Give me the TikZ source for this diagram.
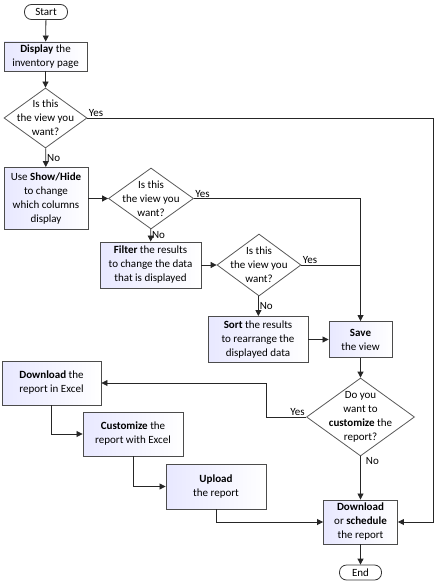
\documentclass[tikz,border=0pt]{standalone}
\usepackage{fontspec}
\setmainfont{Carlito}
\usetikzlibrary{shapes.geometric, arrows.meta, positioning, calc}
\tikzset{
    terminal/.style={
        rectangle,
        rounded corners=7pt,
        draw=black!80,
        line width=0.8pt,
        minimum width=43pt,
        minimum height=15pt,
        inner sep=0pt,
        fill=white,
        font=\fontsize{11}{12}\selectfont
    },
    process/.style={
        rectangle,
        draw=black!70,
        line width=0.9pt,
        left color=blue!9!white,
        right color=white,
        align=center,
        inner sep=1pt,
        font=\fontsize{11}{14}\selectfont
    },
    decision/.style={
        diamond,
        draw=black!65,
        line width=0.8pt,
        fill=white,
        inner sep=0pt
    },
    dtext/.style={
        align=center,
        inner sep=0pt,
        font=\fontsize{11}{14}\selectfont
    },
    wire/.style={
        draw=black!85,
        line width=0.8pt,
        -{Triangle[length=6pt,width=6pt]}
    },
    joinwire/.style={
        draw=black!85,
        line width=0.8pt
    },
    answer/.style={
        font=\fontsize{11}{12}\selectfont,
        inner sep=1pt
    }
}
\begin{document}
\begin{tikzpicture}[x=1pt, y=-1pt]
\useasboundingbox (0,0) rectangle (435,585);

% Start
\node[terminal] (start) at (46,12) {Start};
\node[process, minimum width=83pt, minimum height=29pt] (display) at (45.5,56.5) {\textbf{Display} the\\inventory page};
\node[decision, minimum width=83pt, minimum height=60pt] (q1) at (45.5,118) {};
\node[dtext] (q1t) at (q1) {Is this\\the view you\\want?};

\draw[wire] (start) -- (display);
\draw[wire] (display) -- (q1);

% Show/Hide
\node[process, minimum width=84pt, minimum height=62pt] (showhide) at (46,198.5) {Use \textbf{Show/Hide}\\to change\\which columns\\display};
\node[decision, minimum width=85pt, minimum height=61pt] (q2) at (151,198.5) {};
\node[dtext] (q2t) at (q2) {Is this\\the view you\\want?};

\draw[wire] (q1) -- node[answer, right] {No} (showhide);
\draw[wire] (showhide.east) -- (q2.west);

% Filter
\node[process, minimum width=101pt, minimum height=46pt] (filter) at (150.5,265) {\textbf{Filter} the results\\to change the data\\that is displayed};
\node[decision, minimum width=84pt, minimum height=62pt] (q3) at (259,265) {};
\node[dtext] (q3t) at (q3) {Is this\\the view you\\want?};

\draw[wire] (q2) -- node[answer, right] {No} (filter);
\draw[wire] (filter.east) -- (q3.west);

% Sort and save
\node[process, minimum width=100pt, minimum height=46pt] (sort) at (258,339.5) {\textbf{Sort} the results\\to rearrange the\\displayed data};
\node[process, minimum width=63pt, minimum height=36pt] (save) at (360.5,339.5) {\textbf{Save}\\the view};

\draw[wire] (q3) -- node[answer, right] {No} (sort);
\draw[wire] (sort.east) -- (save.west);
\draw[wire] (q2.east) node[answer, anchor=south west] {Yes} -| (save.north);
\draw[joinwire] (q3.east) node[answer, anchor=south west] {Yes} -- (save.north |- q3.east);

% Customize?
\node[decision, minimum width=108pt, minimum height=78pt] (q4) at (360.5,417) {};
\node[dtext] (q4t) at (q4) {Do you\\want to\\\textbf{customize} the\\report?};

\draw[wire] (save) -- (q4);

% Excel branch
\node[process, minimum width=99pt, minimum height=44pt] (dlexcel) at (51.5,383) {\textbf{Download} the\\report in Excel};
\node[process, minimum width=100pt, minimum height=44pt] (custom) at (133,434) {\textbf{Customize} the\\report with Excel};
\node[process, minimum width=100pt, minimum height=45pt] (upload) at (216,486.5) {\textbf{Upload}\\the report};
\coordinate (ybend) at (266,417);

\draw[wire] (q4.west) node[answer, anchor=south east] {Yes} -- (ybend) |- (dlexcel.east);
\draw[wire] (dlexcel.south) |- (custom.west);
\draw[wire] (custom.south) |- (upload.west);

% End
\node[process, minimum width=74pt, minimum height=44pt] (dlsched) at (360.5,522) {\textbf{Download}\\or \textbf{schedule}\\the report};
\node[terminal, minimum width=42pt] (end) at (360.5,572.5) {End};
\coordinate (rbend) at (433,522);

\draw[wire] (q4.south) node[answer, anchor=north west, xshift=4pt] {No} -- (dlsched.north);
\draw[wire] (upload.south) |- (dlsched.west);
\draw[wire] (q1.east) node[answer, anchor=south west] {Yes} -| (rbend) -- (dlsched.east);
\draw[wire] (dlsched) -- (end);

\end{tikzpicture}
\end{document}
